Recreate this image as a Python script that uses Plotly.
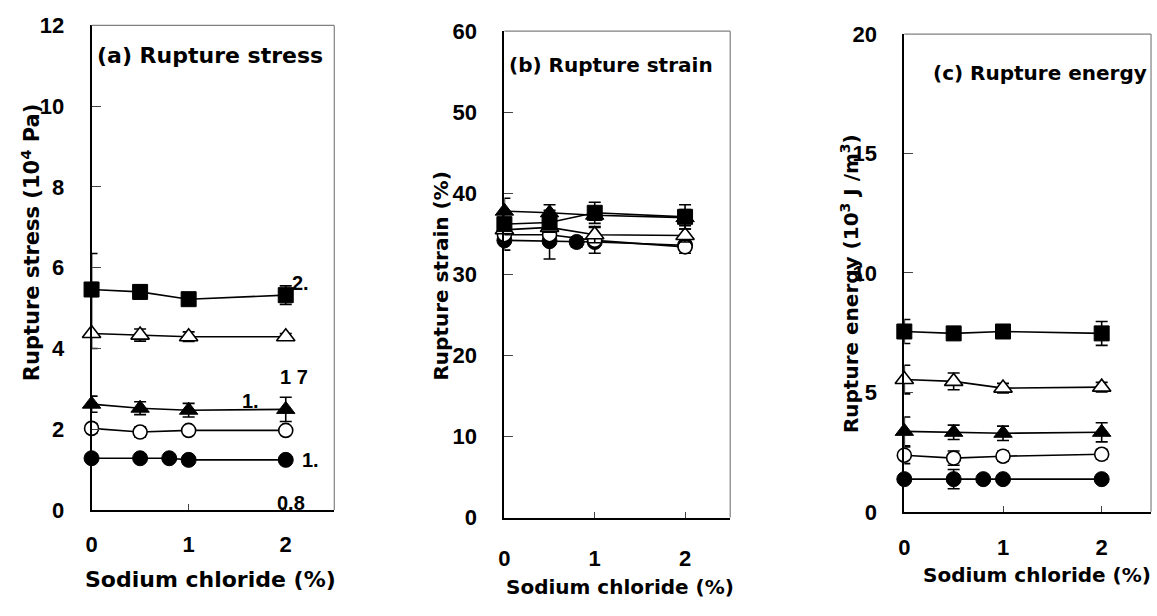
import plotly.graph_objects as go

W, H = 1157, 616

# ---------------- data ----------------
nacl = [0, 0.5, 1, 2]
nacl_fc = [0, 0.5, 0.8, 1, 2]

# (a) Rupture stress (10^4 Pa)
a_sq = [5.46, 5.40, 5.22, 5.32]
a_sq_err = [0.17, 0.17, 0.06, 0.23]
a_ot = [4.37, 4.33, 4.29, 4.29]
a_ot_errp = [1.98, 0.15, 0.12, 0.08]
a_ot_errm = [0.37, 0.15, 0.12, 0.08]
a_ft = [2.62, 2.52, 2.47, 2.49]
a_ft_err = [0.2, 0.16, 0.17, 0.3]
a_oc = [2.02, 1.93, 1.97, 1.97]
a_oc_err = [0.12, 0.12, 0.08, 0.08]
a_fc = [1.28, 1.28, 1.28, 1.24, 1.24]
a_fc_err = [0.1, 0.1, 0.05, 0.1, 0.05]

# (b) Rupture strain (%)
b_sq = [36.2, 36.4, 37.6, 37.1]
b_sq_err = [0.5, 0.5, 1.3, 1.5]
b_ot = [35.5, 35.8, 34.9, 34.8]
b_ot_err = [0.6, 0.6, 1.0, 0.8]
b_ft = [37.8, 37.6, 37.3, 37.0]
b_ft_err = [1.6, 1.0, 0.6, 1.0]
b_oc = [34.9, 34.9, 34.2, 33.4]
b_oc_err = [0.6, 3.0, 1.6, 0.8]
b_fc = [34.2, 34.1, 34.0, 34.0, 33.6]
b_fc_err = [1.2, 0.5, 0.6, 0.5, 0.5]

# (c) Rupture energy (10^3 J/m^3)
c_sq = [7.55, 7.47, 7.55, 7.47]
c_sq_err = [0.5, 0.12, 0.12, 0.5]
c_ot = [5.54, 5.46, 5.18, 5.22]
c_ot_err = [0.6, 0.35, 0.2, 0.2]
c_ft = [3.37, 3.33, 3.29, 3.33]
c_ft_err = [0.6, 0.3, 0.3, 0.4]
c_oc = [2.37, 2.25, 2.33, 2.41]
c_oc_err = [0.35, 0.3, 0.2, 0.2]
c_fc = [1.37, 1.37, 1.37, 1.37, 1.37]
c_fc_err = [0.15, 0.4, 0.1, 0.1, 0.1]

y_ticks_a = [0, 2, 4, 6, 8, 10, 12]
y_ticks_b = [0, 10, 20, 30, 40, 50, 60]
y_ticks_c = [0, 5, 10, 15, 20]
x_ticks = [0, 1, 2]

panel_titles = ["(a) Rupture stress", "(b) Rupture strain", "(c) Rupture energy"]
y_titles = ["Rupture stress (10<sup>4</sup> Pa)", "Rupture strain (%)",
            "Rupture energy (10<sup>3</sup> J /m<sup>3</sup>)"]
x_title = "Sodium chloride (%)"
stray_labels = ["2.", "1 7", "1.", "1.", "0.8"]

FONT = "DejaVu Sans"
TICKFONT = "Liberation Sans"

# ---------------- figure ----------------
fig = go.Figure()

def px2x(p):
    return p / W

def px2y(p):
    return 1 - p / H

# subplot boxes in pixels (left, top, right, bottom)
boxes = [(86, 14, 330, 519), (501, 20, 728, 527), (903, 23, 1151, 521)]

styles = {
    "sq": dict(symbol="square", size=15, color="black", line=dict(color="black", width=1)),
    "ot": dict(symbol="triangle-up", size=16, color="white", line=dict(color="black", width=1.6)),
    "ft": dict(symbol="triangle-up", size=16, color="black", line=dict(color="black", width=1)),
    "oc": dict(symbol="circle", size=14, color="white", line=dict(color="black", width=1.6)),
    "fc": dict(symbol="circle", size=15, color="black", line=dict(color="black", width=1)),
}

def add_series(x, y, errp, errm, key, xa, ya):
    fig.add_trace(go.Scatter(
        x=x, y=y, mode="lines+markers",
        line=dict(color="black", width=1.6),
        marker=styles[key],
        error_y=dict(type="data", array=errp, arrayminus=errm, symmetric=False,
                     color="black", thickness=1.6, width=6),
        cliponaxis=False, showlegend=False,
        xaxis=xa, yaxis=ya,
    ))

panels = [
    [(nacl_fc, a_fc, a_fc_err, a_fc_err, "fc"), (nacl, a_oc, a_oc_err, a_oc_err, "oc"),
     (nacl, a_ft, a_ft_err, a_ft_err, "ft"), (nacl, a_ot, a_ot_errp, a_ot_errm, "ot"),
     (nacl, a_sq, a_sq_err, a_sq_err, "sq")],
    [(nacl_fc, b_fc, b_fc_err, b_fc_err, "fc"), (nacl, b_oc, b_oc_err, b_oc_err, "oc"),
     (nacl, b_ot, b_ot_err, b_ot_err, "ot"), (nacl, b_sq, b_sq_err, b_sq_err, "sq"),
     (nacl, b_ft, b_ft_err, b_ft_err, "ft")],
    [(nacl_fc, c_fc, c_fc_err, c_fc_err, "fc"), (nacl, c_oc, c_oc_err, c_oc_err, "oc"),
     (nacl, c_ft, c_ft_err, c_ft_err, "ft"), (nacl, c_ot, c_ot_err, c_ot_err, "ot"),
     (nacl, c_sq, c_sq_err, c_sq_err, "sq")],
]
yticks = [y_ticks_a, y_ticks_b, y_ticks_c]
x_standoff = [14, 20, 15]

for i, (box, series) in enumerate(zip(boxes, panels)):
    n = "" if i == 0 else str(i + 1)
    xa, ya = "x" + n, "y" + n
    for s in series:
        add_series(*s, xa, ya)
    l, t, r, b = box
    tick_font = dict(family=TICKFONT, size=22, color="black", weight="bold")
    fig.update_layout(**{
        "xaxis" + n: dict(domain=[px2x(l), px2x(r)], range=[0, 2.5], anchor=ya,
                          tickvals=x_ticks, ticks="inside", ticklen=6, tickwidth=1,
                          tickcolor="#444", showline=True, linecolor="black", linewidth=2,
                          showgrid=False, zeroline=False, tickfont=tick_font,
                          ticklabelstandoff=x_standoff[i]),
        "yaxis" + n: dict(domain=[px2y(b), px2y(t)], range=[0, yticks[i][-1]], anchor=xa,
                          tickvals=yticks[i], ticks="inside", ticklen=9, tickwidth=1,
                          tickcolor="#444", showline=True, linecolor="black", linewidth=2,
                          showgrid=False, zeroline=False, tickfont=tick_font,
                          ticklabelstandoff=21),
    })
    # thin grey top and right borders
    fig.add_shape(type="line", xref=xa + " domain", yref=ya + " domain",
                  x0=0, x1=1, y0=1, y1=1, line=dict(color="#808080", width=1.2))
    fig.add_shape(type="line", xref=xa + " domain", yref=ya + " domain",
                  x0=1, x1=1, y0=0, y1=1, line=dict(color="#808080", width=1.2))

def font(sz):
    return dict(family=FONT, size=sz, color="black", weight="bold")

# panel titles
for txt, (px, py), sz in zip(panel_titles, [(89, 45), (504, 55), (930, 64)], [22, 20, 20]):
    fig.add_annotation(text=txt, x=px2x(px), y=px2y(py), xref="paper", yref="paper",
                       xanchor="left", yanchor="middle", showarrow=False, font=font(sz))

# y-axis titles
for txt, (px, py), sz in zip(y_titles, [(25, 240), (437, 275), (848, 283)], [21, 20, 20]):
    fig.add_annotation(text=txt, x=px2x(px), y=px2y(py), xref="paper", yref="paper",
                       xanchor="center", yanchor="middle", textangle=-90,
                       showarrow=False, font=font(sz))

# x-axis titles
for (px, py), sz in zip([(206, 592), (617, 599), (1036, 587)], [22, 20, 20]):
    fig.add_annotation(text=x_title, x=px2x(px), y=px2y(py), xref="paper", yref="paper",
                       xanchor="center", yanchor="middle", showarrow=False, font=font(sz))

# stray label fragments in panel (a)
for txt, (px, py) in zip(stray_labels, [(296, 282), (290, 380), (246, 405), (306, 467), (286, 512)]):
    fig.add_annotation(text=txt, x=px2x(px), y=px2y(py), xref="paper", yref="paper",
                       xanchor="center", yanchor="middle", showarrow=False,
                       font=dict(family=TICKFONT, size=20, color="black", weight="bold"))

fig.update_layout(width=W, height=H, margin=dict(l=0, r=0, t=0, b=0),
                  paper_bgcolor="white", plot_bgcolor="white", showlegend=False)

fig.write_html("out.html")
